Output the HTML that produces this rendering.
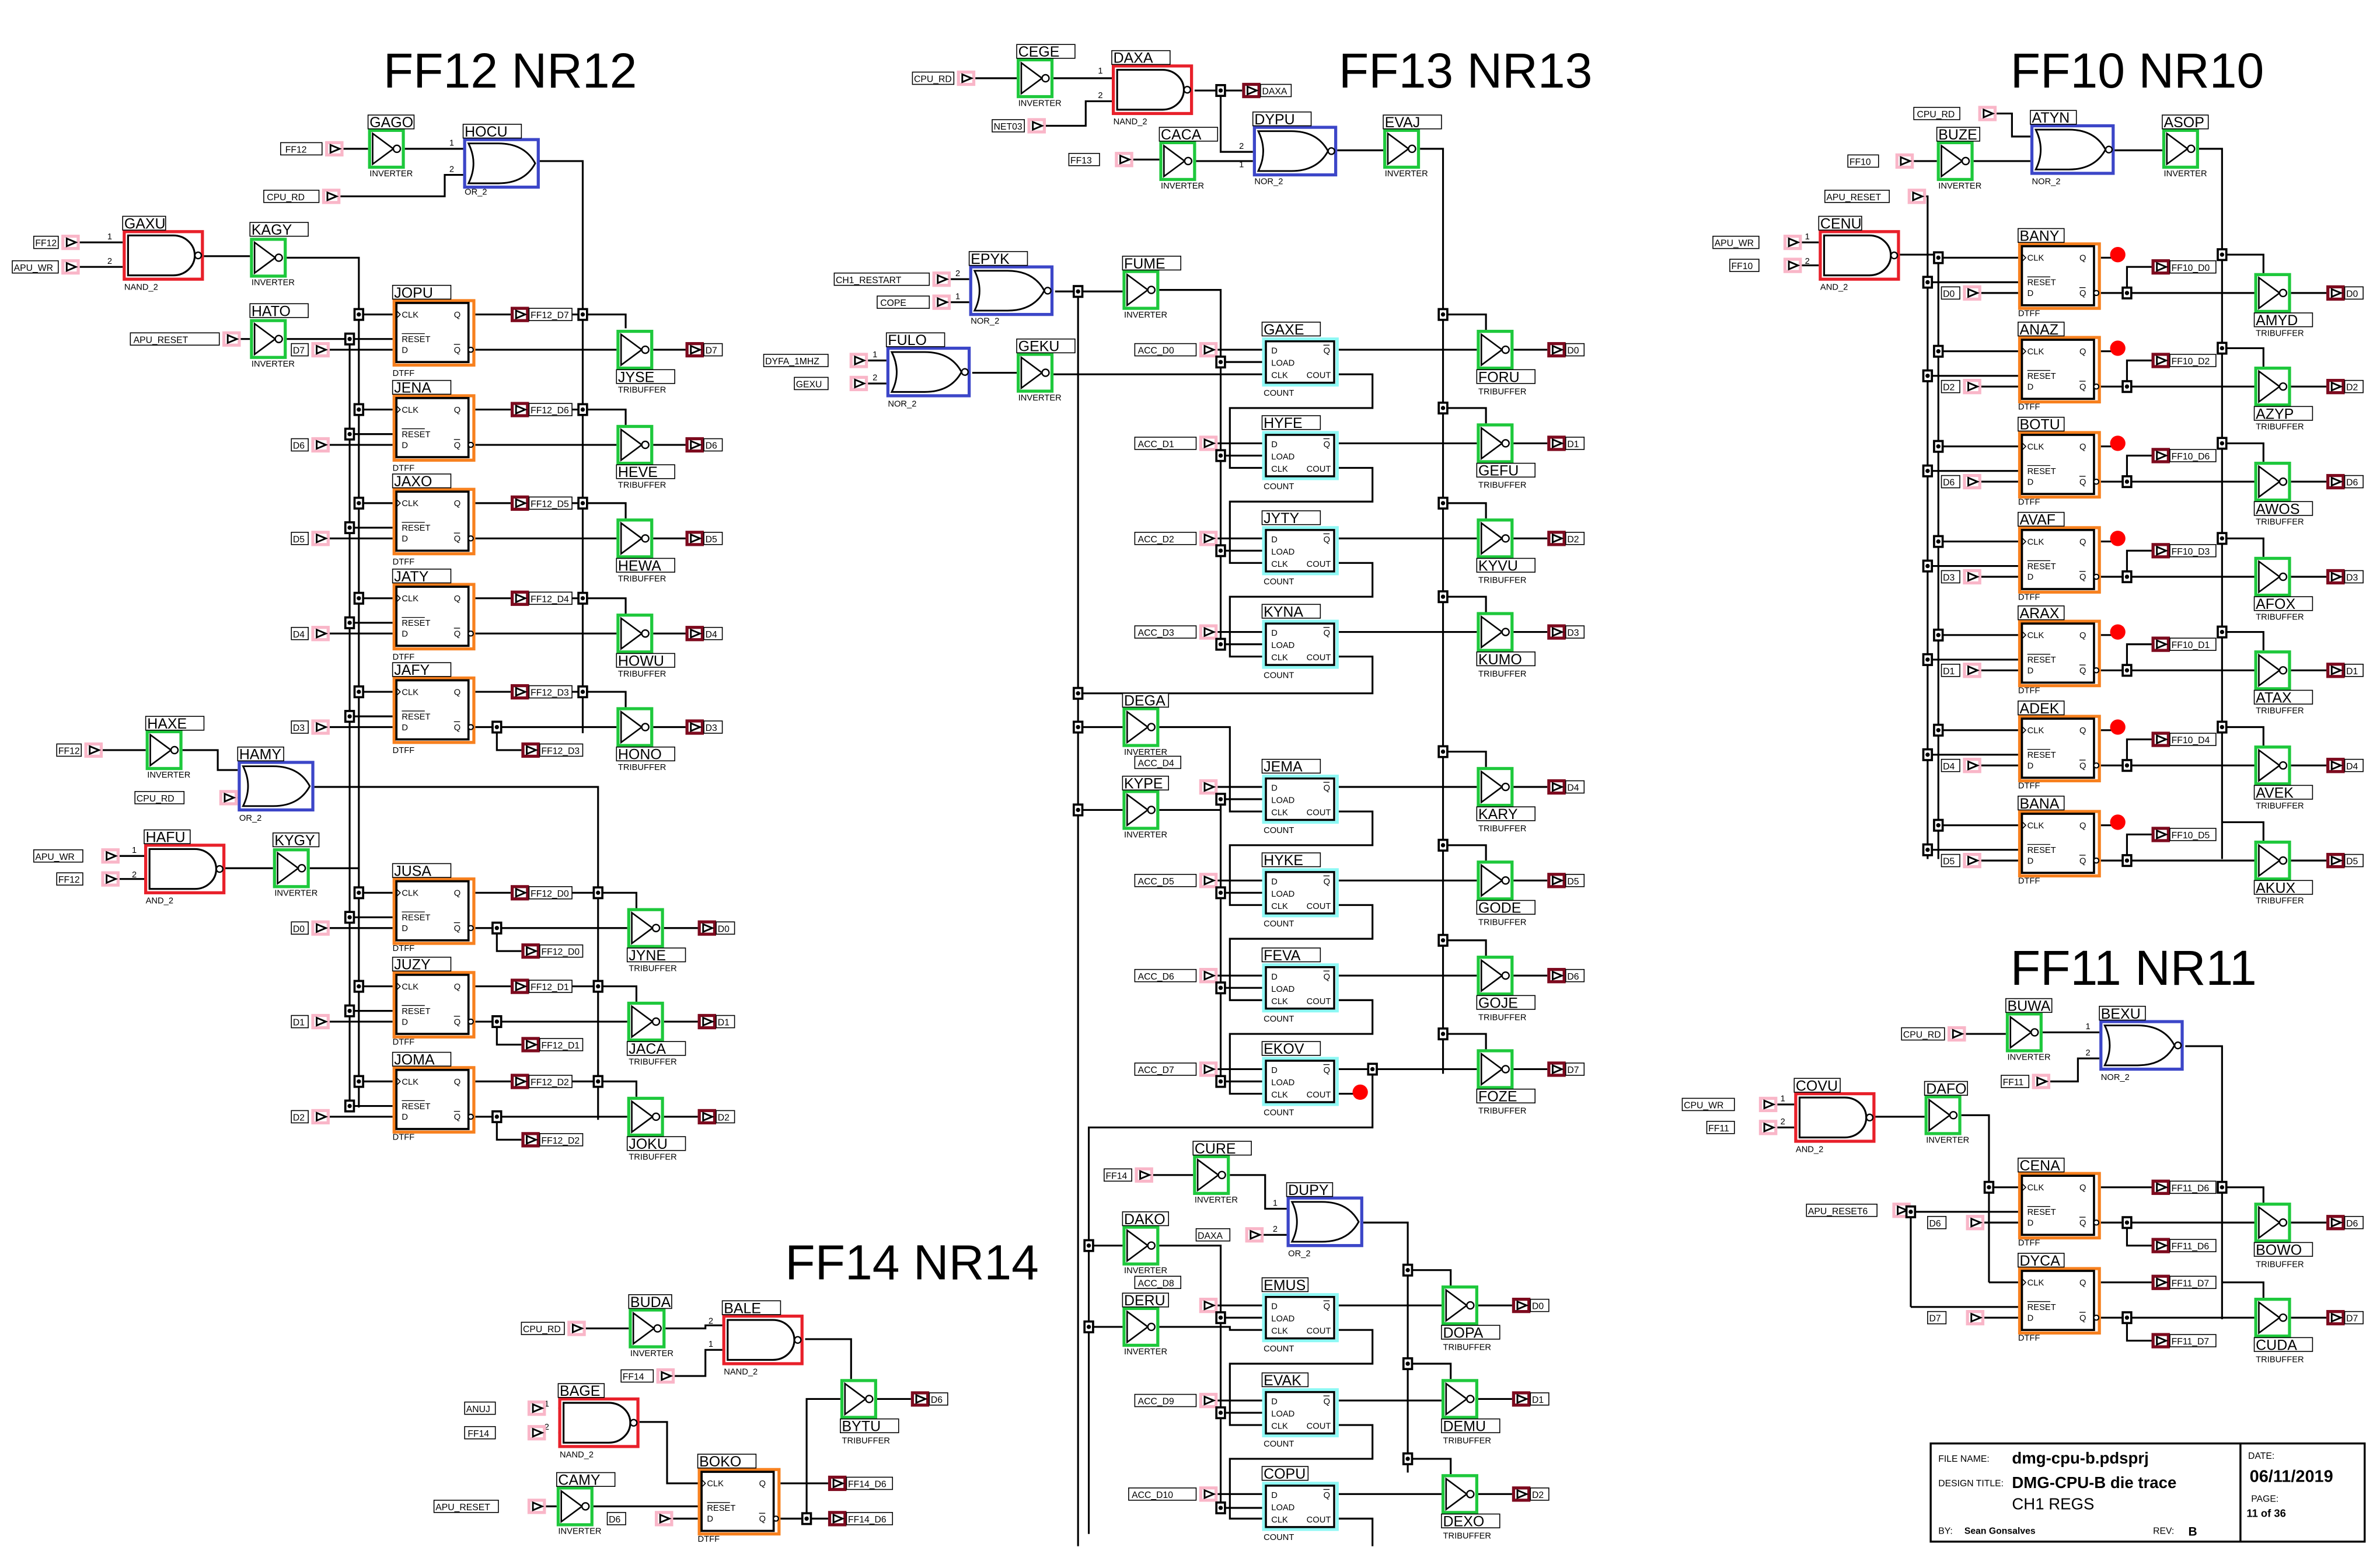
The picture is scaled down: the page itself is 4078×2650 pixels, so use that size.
<!DOCTYPE html>
<html><head><meta charset="utf-8">
<style>
html,body{margin:0;padding:0;background:#fff;}
svg{display:block}
text{font-family:"Liberation Sans",sans-serif;fill:#000}
.n{font-size:9.5px}
.t{font-size:5.6px}
.p{font-size:6px}
.g{font-size:6px}
.T{font-size:32px}
.b{fill:#fff;stroke:#000;stroke-width:.6}
.w{fill:none;stroke:#000;stroke-width:1.2}
</style></head><body>
<svg width="4078" height="2650" viewBox="0 0 1552 1008.5" preserveAspectRatio="none" xmlns="http://www.w3.org/2000/svg" xmlns:xlink="http://www.w3.org/1999/xlink">
<defs>
<g id="inv"><rect x="1" y="1" width="22" height="24" fill="#fff" stroke="#1ec83c" stroke-width="2"/><path d="M3,3L3,23L16.5,13Z" fill="none" stroke="#000" stroke-width="1"/><circle cx="18.8" cy="13" r="2.3" fill="#fff" stroke="#000" stroke-width=".9"/></g>
<g id="nand"><rect x="1" y="1" width="51" height="31" fill="#fff" stroke="#e8202a" stroke-width="2"/><path d="M3.5,3.5H33A14,13 0 0 1 33,29.5H3.5Z" fill="none" stroke="#000" stroke-width="1.2"/><circle cx="49.2" cy="16.5" r="2.1" fill="#fff" stroke="#000" stroke-width=".9"/></g>
<g id="nor"><rect x="1" y="1" width="53" height="31" fill="#fff" stroke="#3c46c8" stroke-width="2"/><path d="M3.5,3.5Q10,16.5 3.5,29.5H25Q42,29.5 49,16.5Q42,3.5 25,3.5Z" fill="none" stroke="#000" stroke-width="1.1"/><circle cx="51.2" cy="16.5" r="2.1" fill="#fff" stroke="#000" stroke-width=".9"/></g>
<g id="or"><rect x="1" y="1" width="48" height="31" fill="#fff" stroke="#3c46c8" stroke-width="2"/><path d="M3.5,3.5Q10,16.5 3.5,29.5H23Q40,29.5 47,16.5Q40,3.5 23,3.5Z" fill="none" stroke="#000" stroke-width="1.1"/></g>
<g id="dff"><rect x="1" y="1" width="52" height="42" fill="#fff" stroke="#f7801e" stroke-width="2"/><rect x="2.5" y="2.5" width="47" height="38.5" fill="#fff" stroke="#000" stroke-width="1.4"/><path d="M3,8L5,10L3,12" fill="none" stroke="#000" stroke-width=".6"/><text class="t" x="6" y="12">CLK</text><text class="t" x="6" y="28">RESET</text><path d="M6,22.5H21" stroke="#000" stroke-width=".5"/><text class="t" x="6" y="35">D</text><text class="t" x="40" y="12">Q</text><text class="t" x="40" y="35">Q</text><path d="M40,29.5H44" stroke="#000" stroke-width=".5"/><circle cx="51" cy="33" r="1.6" fill="#fff" stroke="#000" stroke-width=".8"/></g>
<g id="cnt"><rect x="1" y="1" width="48" height="30" fill="#fff" stroke="#8ef8f4" stroke-width="2"/><rect x="2.5" y="2.5" width="44.5" height="27" fill="#fff" stroke="#000" stroke-width="1.3"/><text class="t" x="6" y="10.5">D</text><text class="t" x="6" y="18.5">LOAD</text><text class="t" x="6" y="26.5">CLK</text><text class="t" x="29" y="26.5">COUT</text><text class="t" x="40" y="10.5">Q</text><path d="M40,5H44" stroke="#000" stroke-width=".5"/></g>
<g id="pi"><rect x="1" y="1" width="10" height="8" fill="#fff" stroke="#f9b6c8" stroke-width="2"/><path d="M3.5,2.5L9.5,5L3.5,7.5Z" fill="none" stroke="#000" stroke-width="1.1"/></g>
<g id="po"><rect x="1" y="1" width="10" height="8" fill="#fff" stroke="#7d0a1e" stroke-width="2"/><path d="M3.5,2.5L9.5,5L3.5,7.5Z" fill="none" stroke="#000" stroke-width="1.1"/></g>
<g id="j"><rect x="-2.8" y="-3.5" width="5.6" height="7" fill="#fff" stroke="#000" stroke-width="1.4"/><circle r="1.4" fill="#000"/></g>
</defs>

<!-- ================= WIRES ================= -->
<path class="w" d="
M52,158H80 M52,174H80 M133,167H163 M187,168H234V722 M157,221H163 M187,221H228V722
M224,97H240 M264,97H302 M222,128H290V114H302 M351,105H380V478
M234,205H256 M228,221H256 M215,228H256 M310,205H333 M345,205H408V214 M310,228H402 M426,228H447
M234,267H256 M228,283H256 M215,290H256 M310,267H333 M345,267H408V277 M310,290H402 M426,290H447
M234,328H256 M228,344H256 M215,351H256 M310,328H333 M345,328H408V338 M310,351H402 M426,351H447
M234,390H256 M228,406H256 M215,413H256 M310,390H333 M345,390H408V400 M310,413H402 M426,413H447
M234,451H256 M228,467H256 M215,474H256 M310,451H333 M345,451H408V461 M310,474H402 M426,474H447 M324,474V489H340
M67,489H95 M119,489H142V502H155 M155,520H155 M155,520H150 M205,513H390V730
M78,558H94 M78,573H94 M144,566H178 M202,566H234
M234,582H256 M228,598H256 M215,605H256 M310,582H333 M345,582H415V592 M310,605H409 M324,605V620H340 M433,605H455
M234,643H256 M228,659H256 M215,666H256 M310,643H333 M345,643H415V653 M310,666H409 M324,666V681H340 M433,666H455
M234,705H256 M228,721H256 M215,728H256 M310,705H333 M345,705H415V715 M310,728H409 M324,728V743H340 M433,728H455

M382,866H410 M434,866H460V864H471 M440,897H460V880H471 M525,873H555V899
M368,918H364 M368,934H364 M417,927H435V967H455
M356,982H363 M387,982H455 M439,990H455
M509,967H540 M509,990H540 M526,990V912H548 M572,912H594

M636,51H663 M687,51H725 M682,82H708V66H725 M779,59H810 M796,59V99H817 M739,104H756 M780,105H817 M872,98H902 M926,97H941V700
M632,182H620 M632,197H620 M688,190H732 M703,190V1008 M756,189H796V420
M566,235H578 M566,250H578 M634,243H663 M687,244H823
M794,228H823 M796,236H823 M873,228H963 M941,205H969V215 M987,228H1009
M794,289H823 M796,297H823 M873,289H963 M941,266H969V276 M987,289H1009
M794,351H823 M796,359H823 M873,351H963 M941,328H969V338 M987,351H1009
M794,412H823 M796,420H823 M873,412H963 M941,389H969V399 M987,412H1009
M794,513H823 M796,521H823 M873,513H963 M941,490H969V500 M987,513H1009
M794,574H823 M796,582H823 M873,574H963 M941,551H969V561 M987,574H1009
M794,636H823 M796,644H823 M873,636H963 M941,613H969V623 M987,636H1009
M794,697H823 M796,705H823 M873,697H963 M941,674H969V684 M987,697H1009
M873,244H895V266H802V305H823 M873,305H895V327H802V367H823 M873,367H895V389H802V428H823 M873,428H895V452H703
M873,529H895V551H802V590H823 M873,590H895V612H802V652H823 M873,652H895V674H802V713H823 M873,713H887
M703,474H732 M756,474H802V529H823 M703,528H732 M756,528H796 M796,521V705
M895,697V735H710V1000 M752,766H778 M802,766H825V788H839 M824,805H839 M889,797H918V960
M918,828H946V838 M918,889H946V899 M918,951H946V961
M710,812H732 M756,812H796V983 M710,865H732 M756,865H802V867H823
M794,851H823 M796,859H823 M873,851H940 M964,851H986
M794,913H823 M796,921H823 M873,913H940 M964,912H986
M794,974H823 M796,983H823 M873,974H940 M964,974H986
M873,867H895V889H802V929H823 M873,929H895V951H802V990H823 M873,990H895V1008

M1302,74H1312V89H1324 M1248,105H1263 M1287,105H1324 M1379,98H1410 M1434,97H1449V560
M1256,128H1257V560 M1175,158H1186 M1175,173H1186 M1236,166H1264V560
M1264,168H1316 M1257,184H1316 M1292,191H1316 M1370,168H1378 M1370,191H1470 M1387,191V174H1403 M1449,166H1476V178 M1494,191H1517
M1264,229H1316 M1257,245H1316 M1292,252H1316 M1370,229H1378 M1370,252H1470 M1387,252V235H1403 M1449,227H1476V239 M1494,252H1517
M1264,291H1316 M1257,307H1316 M1292,314H1316 M1370,291H1378 M1370,314H1470 M1387,314V297H1403 M1449,289H1476V301 M1494,314H1517
M1264,353H1316 M1257,369H1316 M1292,376H1316 M1370,353H1378 M1370,376H1470 M1387,376V359H1403 M1449,351H1476V363 M1494,376H1517
M1264,414H1316 M1257,430H1316 M1292,437H1316 M1370,414H1378 M1370,437H1470 M1387,437V420H1403 M1449,412H1476V424 M1494,437H1517
M1264,476H1316 M1257,492H1316 M1292,499H1316 M1370,476H1378 M1370,499H1470 M1387,499V482H1403 M1449,474H1476V486 M1494,499H1517
M1264,538H1316 M1257,554H1316 M1292,561H1316 M1370,538H1378 M1370,561H1470 M1387,561V544H1403 M1449,536H1476V548 M1494,561H1517

M1282,674H1308 M1332,673H1369 M1337,705H1355V690H1369 M1425,682H1449V860
M1159,720H1170 M1159,735H1170 M1220,728H1255 M1279,727H1297V836
M1246,789V852 M1246,790H1316 M1246,852H1316 M1297,774H1316 M1297,836H1316
M1294,797H1316 M1294,859H1316
M1370,774H1403 M1370,797H1470 M1387,797V812H1403 M1449,774H1476V784 M1494,797H1517
M1370,836H1403 M1370,859H1470 M1387,859V874H1403 M1449,836H1476V846 M1494,859H1517
"/>

<!-- ================= TITLES ================= -->
<text class="T" x="250" y="57">FF12 NR12</text>
<text class="T" x="873" y="57">FF13 NR13</text>
<text class="T" x="1311" y="57">FF10 NR10</text>
<text class="T" x="1311" y="642">FF11 NR11</text>
<text class="T" x="512" y="834">FF14 NR14</text>

<!-- ================= FF12 ================= -->
<use href="#inv" x="240" y="84"/><rect class="b" x="240" y="75" width="30" height="9"/><text class="n" x="241" y="83">GAGO</text><text class="t" x="241" y="115">INVERTER</text>
<use href="#or" x="302" y="90"/><rect class="b" x="302" y="81" width="38" height="9"/><text class="n" x="303" y="89">HOCU</text><text class="t" x="303" y="127">OR_2</text><text class="t" x="293" y="95">1</text><text class="t" x="293" y="112">2</text>
<use href="#pi" x="212" y="92"/><rect class="b" x="183" y="93" width="27" height="8"/><text class="p" x="186" y="99.5">FF12</text>
<use href="#pi" x="210" y="123"/><rect class="b" x="172" y="124" width="36" height="8"/><text class="p" x="174" y="130.5">CPU_RD</text>
<use href="#nand" x="80" y="150"/><rect class="b" x="80" y="141" width="28" height="9"/><text class="n" x="81" y="149">GAXU</text><text class="t" x="81" y="189">NAND_2</text><text class="t" x="70" y="156">1</text><text class="t" x="70" y="172">2</text>
<use href="#pi" x="40" y="153"/><rect class="b" x="22" y="154" width="16" height="8"/><text class="p" x="23" y="160.5">FF12</text>
<use href="#pi" x="40" y="169"/><rect class="b" x="8" y="170" width="30" height="8"/><text class="p" x="9" y="176.5">APU_WR</text>
<use href="#inv" x="163" y="155"/><rect class="b" x="163" y="145" width="38" height="9"/><text class="n" x="164" y="153">KAGY</text><text class="t" x="164" y="186">INVERTER</text>
<use href="#inv" x="163" y="208"/><rect class="b" x="163" y="198" width="38" height="9"/><text class="n" x="164" y="206">HATO</text><text class="t" x="164" y="239">INVERTER</text>
<use href="#pi" x="145" y="216"/><rect class="b" x="85" y="217" width="58" height="8"/><text class="p" x="87" y="223.5">APU_RESET</text>

<use href="#dff" x="256" y="195"/><rect class="b" x="256" y="186" width="38" height="9"/><text class="n" x="257" y="194">JOPU</text><text class="t" x="256" y="245">DTFF</text>
<use href="#dff" x="256" y="257"/><rect class="b" x="256" y="248" width="38" height="9"/><text class="n" x="257" y="256">JENA</text><text class="t" x="256" y="307">DTFF</text>
<use href="#dff" x="256" y="318"/><rect class="b" x="256" y="309" width="38" height="9"/><text class="n" x="257" y="317">JAXO</text><text class="t" x="256" y="368">DTFF</text>
<use href="#dff" x="256" y="380"/><rect class="b" x="256" y="371" width="38" height="9"/><text class="n" x="257" y="379">JATY</text><text class="t" x="256" y="430">DTFF</text>
<use href="#dff" x="256" y="441"/><rect class="b" x="256" y="432" width="38" height="9"/><text class="n" x="257" y="440">JAFY</text><text class="t" x="256" y="491">DTFF</text>

<use href="#pi" x="203" y="223"/><rect class="b" x="190" y="224" width="11" height="8"/><text class="p" x="191" y="230.5">D7</text>
<use href="#pi" x="203" y="285"/><rect class="b" x="190" y="286" width="11" height="8"/><text class="p" x="191" y="292.5">D6</text>
<use href="#pi" x="203" y="346"/><rect class="b" x="190" y="347" width="11" height="8"/><text class="p" x="191" y="353.5">D5</text>
<use href="#pi" x="203" y="408"/><rect class="b" x="190" y="409" width="11" height="8"/><text class="p" x="191" y="415.5">D4</text>
<use href="#pi" x="203" y="469"/><rect class="b" x="190" y="470" width="11" height="8"/><text class="p" x="191" y="476.5">D3</text>

<use href="#po" x="333" y="200"/><rect class="b" x="345" y="201" width="28" height="8"/><text class="p" x="346" y="207.5">FF12_D7</text>
<use href="#po" x="333" y="262"/><rect class="b" x="345" y="263" width="28" height="8"/><text class="p" x="346" y="269.5">FF12_D6</text>
<use href="#po" x="333" y="323"/><rect class="b" x="345" y="324" width="28" height="8"/><text class="p" x="346" y="330.5">FF12_D5</text>
<use href="#po" x="333" y="385"/><rect class="b" x="345" y="386" width="28" height="8"/><text class="p" x="346" y="392.5">FF12_D4</text>
<use href="#po" x="333" y="446"/><rect class="b" x="345" y="447" width="28" height="8"/><text class="p" x="346" y="453.5">FF12_D3</text>
<use href="#po" x="340" y="484"/><rect class="b" x="352" y="485" width="28" height="8"/><text class="p" x="353" y="491.5">FF12_D3</text>

<use href="#inv" x="402" y="215"/><rect class="b" x="402" y="241" width="38" height="9"/><text class="n" x="403" y="249">JYSE</text><text class="t" x="403" y="256">TRIBUFFER</text>
<use href="#inv" x="402" y="277"/><rect class="b" x="402" y="303" width="38" height="9"/><text class="n" x="403" y="311">HEVE</text><text class="t" x="403" y="318">TRIBUFFER</text>
<use href="#inv" x="402" y="338"/><rect class="b" x="402" y="364" width="38" height="9"/><text class="n" x="403" y="372">HEWA</text><text class="t" x="403" y="379">TRIBUFFER</text>
<use href="#inv" x="402" y="400"/><rect class="b" x="402" y="426" width="38" height="9"/><text class="n" x="403" y="434">HOWU</text><text class="t" x="403" y="441">TRIBUFFER</text>
<use href="#inv" x="402" y="461"/><rect class="b" x="402" y="487" width="38" height="9"/><text class="n" x="403" y="495">HONO</text><text class="t" x="403" y="502">TRIBUFFER</text>

<use href="#po" x="447" y="223"/><rect class="b" x="459" y="224" width="12" height="8"/><text class="p" x="460" y="230.5">D7</text>
<use href="#po" x="447" y="285"/><rect class="b" x="459" y="286" width="12" height="8"/><text class="p" x="460" y="292.5">D6</text>
<use href="#po" x="447" y="346"/><rect class="b" x="459" y="347" width="12" height="8"/><text class="p" x="460" y="353.5">D5</text>
<use href="#po" x="447" y="408"/><rect class="b" x="459" y="409" width="12" height="8"/><text class="p" x="460" y="415.5">D4</text>
<use href="#po" x="447" y="469"/><rect class="b" x="459" y="470" width="12" height="8"/><text class="p" x="460" y="476.5">D3</text>

<use href="#j" x="234" y="205"/><use href="#j" x="228" y="221"/><use href="#j" x="380" y="205"/>
<use href="#j" x="234" y="267"/><use href="#j" x="228" y="283"/><use href="#j" x="380" y="267"/>
<use href="#j" x="234" y="328"/><use href="#j" x="228" y="344"/><use href="#j" x="380" y="328"/>
<use href="#j" x="234" y="390"/><use href="#j" x="228" y="406"/><use href="#j" x="380" y="390"/>
<use href="#j" x="234" y="451"/><use href="#j" x="228" y="467"/><use href="#j" x="380" y="451"/><use href="#j" x="324" y="474"/>

<!-- lower FF12 -->
<use href="#inv" x="95" y="476"/><rect class="b" x="95" y="467" width="38" height="9"/><text class="n" x="96" y="475">HAXE</text><text class="t" x="96" y="507">INVERTER</text>
<use href="#pi" x="55" y="484"/><rect class="b" x="37" y="485" width="16" height="8"/><text class="p" x="38" y="491.5">FF12</text>
<use href="#or" x="155" y="496"/><rect class="b" x="155" y="487" width="30" height="9"/><text class="n" x="156" y="495">HAMY</text><text class="t" x="156" y="535">OR_2</text><text class="t" x="147" y="519">2</text>
<use href="#pi" x="143" y="515"/><rect class="b" x="88" y="516" width="32" height="8"/><text class="p" x="89" y="522.5">CPU_RD</text>
<use href="#nand" x="94" y="550"/><rect class="b" x="94" y="541" width="30" height="9"/><text class="n" x="95" y="549">HAFU</text><text class="t" x="95" y="589">AND_2</text><text class="t" x="86" y="556">1</text><text class="t" x="86" y="572">2</text>
<use href="#pi" x="66" y="553"/><rect class="b" x="22" y="554" width="32" height="8"/><text class="p" x="23" y="560.5">APU_WR</text>
<use href="#pi" x="66" y="568"/><rect class="b" x="37" y="569" width="17" height="8"/><text class="p" x="38" y="575.5">FF12</text>
<use href="#inv" x="178" y="553"/><rect class="b" x="178" y="543" width="30" height="9"/><text class="n" x="179" y="551">KYGY</text><text class="t" x="179" y="584">INVERTER</text>

<use href="#dff" x="256" y="572"/><rect class="b" x="256" y="563" width="38" height="9"/><text class="n" x="257" y="571">JUSA</text><text class="t" x="256" y="620">DTFF</text>
<use href="#dff" x="256" y="633"/><rect class="b" x="256" y="624" width="38" height="9"/><text class="n" x="257" y="632">JUZY</text><text class="t" x="256" y="681">DTFF</text>
<use href="#dff" x="256" y="695"/><rect class="b" x="256" y="686" width="38" height="9"/><text class="n" x="257" y="694">JOMA</text><text class="t" x="256" y="743">DTFF</text>
<use href="#pi" x="203" y="600"/><rect class="b" x="190" y="601" width="11" height="8"/><text class="p" x="191" y="607.5">D0</text>
<use href="#pi" x="203" y="661"/><rect class="b" x="190" y="662" width="11" height="8"/><text class="p" x="191" y="668.5">D1</text>
<use href="#pi" x="203" y="723"/><rect class="b" x="190" y="724" width="11" height="8"/><text class="p" x="191" y="730.5">D2</text>
<use href="#po" x="333" y="577"/><rect class="b" x="345" y="578" width="28" height="8"/><text class="p" x="346" y="584.5">FF12_D0</text>
<use href="#po" x="333" y="638"/><rect class="b" x="345" y="639" width="28" height="8"/><text class="p" x="346" y="645.5">FF12_D1</text>
<use href="#po" x="333" y="700"/><rect class="b" x="345" y="701" width="28" height="8"/><text class="p" x="346" y="707.5">FF12_D2</text>
<use href="#po" x="340" y="615"/><rect class="b" x="352" y="616" width="28" height="8"/><text class="p" x="353" y="622.5">FF12_D0</text>
<use href="#po" x="340" y="676"/><rect class="b" x="352" y="677" width="28" height="8"/><text class="p" x="353" y="683.5">FF12_D1</text>
<use href="#po" x="340" y="738"/><rect class="b" x="352" y="739" width="28" height="8"/><text class="p" x="353" y="745.5">FF12_D2</text>
<use href="#inv" x="409" y="592"/><rect class="b" x="409" y="618" width="38" height="9"/><text class="n" x="410" y="626">JYNE</text><text class="t" x="410" y="633">TRIBUFFER</text>
<use href="#inv" x="409" y="653"/><rect class="b" x="409" y="679" width="38" height="9"/><text class="n" x="410" y="687">JACA</text><text class="t" x="410" y="694">TRIBUFFER</text>
<use href="#inv" x="409" y="715"/><rect class="b" x="409" y="741" width="38" height="9"/><text class="n" x="410" y="749">JOKU</text><text class="t" x="410" y="756">TRIBUFFER</text>
<use href="#po" x="455" y="600"/><rect class="b" x="467" y="601" width="12" height="8"/><text class="p" x="468" y="607.5">D0</text>
<use href="#po" x="455" y="661"/><rect class="b" x="467" y="662" width="12" height="8"/><text class="p" x="468" y="668.5">D1</text>
<use href="#po" x="455" y="723"/><rect class="b" x="467" y="724" width="12" height="8"/><text class="p" x="468" y="730.5">D2</text>
<use href="#j" x="234" y="582"/><use href="#j" x="228" y="598"/><use href="#j" x="390" y="582"/><use href="#j" x="324" y="605"/>
<use href="#j" x="234" y="643"/><use href="#j" x="228" y="659"/><use href="#j" x="390" y="643"/><use href="#j" x="324" y="666"/>
<use href="#j" x="234" y="705"/><use href="#j" x="228" y="721"/><use href="#j" x="390" y="705"/><use href="#j" x="324" y="728"/>

<!-- ================= FF14 ================= -->
<use href="#inv" x="410" y="853"/><rect class="b" x="410" y="844" width="28" height="9"/><text class="n" x="411" y="852">BUDA</text><text class="t" x="411" y="884">INVERTER</text>
<use href="#pi" x="370" y="861"/><rect class="b" x="340" y="862" width="28" height="8"/><text class="p" x="341" y="868.5">CPU_RD</text>
<use href="#nand" x="471" y="857"/><rect class="b" x="471" y="848" width="38" height="9"/><text class="n" x="472" y="856">BALE</text><text class="t" x="472" y="896">NAND_2</text><text class="t" x="462" y="863">2</text><text class="t" x="462" y="878">1</text>
<use href="#pi" x="428" y="892"/><rect class="b" x="405" y="893" width="21" height="8"/><text class="p" x="406" y="899.5">FF14</text>
<use href="#nand" x="364" y="911"/><rect class="b" x="364" y="902" width="30" height="9"/><text class="n" x="365" y="910">BAGE</text><text class="t" x="365" y="950">NAND_2</text><text class="t" x="355" y="917">1</text><text class="t" x="355" y="932">2</text>
<use href="#pi" x="344" y="913"/><rect class="b" x="303" y="914" width="20" height="8"/><text class="p" x="304" y="920.5">ANUJ</text>
<use href="#pi" x="344" y="929"/><rect class="b" x="303" y="930" width="20" height="8"/><text class="p" x="305" y="936.5">FF14</text>
<use href="#inv" x="363" y="969"/><rect class="b" x="363" y="960" width="38" height="9"/><text class="n" x="364" y="968">CAMY</text><text class="t" x="364" y="1000">INVERTER</text>
<use href="#pi" x="344" y="977"/><rect class="b" x="283" y="978" width="42" height="8"/><text class="p" x="284" y="984.5">APU_RESET</text>
<use href="#pi" x="427" y="985"/><rect class="b" x="396" y="986" width="12" height="8"/><text class="p" x="397" y="992.5">D6</text>
<use href="#dff" x="455" y="957"/><rect class="b" x="455" y="948" width="38" height="9"/><text class="n" x="456" y="956">BOKO</text><text class="t" x="455" y="1005">DTFF</text>
<use href="#po" x="540" y="962"/><rect class="b" x="552" y="963" width="30" height="8"/><text class="p" x="553" y="969.5">FF14_D6</text>
<use href="#po" x="540" y="985"/><rect class="b" x="552" y="986" width="30" height="8"/><text class="p" x="553" y="992.5">FF14_D6</text>
<use href="#inv" x="548" y="899"/><rect class="b" x="548" y="925" width="38" height="9"/><text class="n" x="549" y="933">BYTU</text><text class="t" x="549" y="941">TRIBUFFER</text>
<use href="#po" x="594" y="907"/><rect class="b" x="606" y="908" width="12" height="8"/><text class="p" x="607" y="914.5">D6</text>
<use href="#j" x="526" y="990"/>

<!-- ================= FF13 ================= -->
<use href="#inv" x="663" y="38"/><rect class="b" x="663" y="29" width="38" height="9"/><text class="n" x="664" y="37">CEGE</text><text class="t" x="664" y="69">INVERTER</text>
<use href="#pi" x="624" y="46"/><rect class="b" x="595" y="47" width="27" height="8"/><text class="p" x="596" y="53.5">CPU_RD</text>
<use href="#nand" x="725" y="42"/><rect class="b" x="725" y="33" width="38" height="9"/><text class="n" x="726" y="41">DAXA</text><text class="t" x="726" y="81">NAND_2</text><text class="t" x="716" y="48">1</text><text class="t" x="716" y="64">2</text>
<use href="#pi" x="670" y="77"/><rect class="b" x="647" y="78" width="21" height="8"/><text class="p" x="648" y="84.5">NET03</text>
<use href="#po" x="810" y="54"/><rect class="b" x="822" y="55" width="20" height="8"/><text class="p" x="823" y="61.5">DAXA</text>
<use href="#j" x="796" y="59"/>
<use href="#inv" x="756" y="92"/><rect class="b" x="756" y="83" width="38" height="9"/><text class="n" x="757" y="91">CACA</text><text class="t" x="757" y="123">INVERTER</text>
<use href="#pi" x="727" y="99"/><rect class="b" x="697" y="100" width="20" height="8"/><text class="p" x="698" y="106.5">FF13</text>
<use href="#nor" x="817" y="82"/><rect class="b" x="817" y="73" width="38" height="9"/><text class="n" x="818" y="81">DYPU</text><text class="t" x="818" y="120">NOR_2</text><text class="t" x="808" y="97">2</text><text class="t" x="808" y="109">1</text>
<use href="#inv" x="902" y="84"/><rect class="b" x="902" y="75" width="38" height="9"/><text class="n" x="903" y="83">EVAJ</text><text class="t" x="903" y="115">INVERTER</text>

<use href="#nor" x="632" y="173"/><rect class="b" x="632" y="164" width="38" height="9"/><text class="n" x="633" y="172">EPYK</text><text class="t" x="633" y="211">NOR_2</text><text class="t" x="623" y="180">2</text><text class="t" x="623" y="195">1</text>
<use href="#pi" x="608" y="177"/><rect class="b" x="544" y="178" width="62" height="8"/><text class="p" x="545" y="184.5">CH1_RESTART</text>
<use href="#pi" x="608" y="192"/><rect class="b" x="572" y="193" width="34" height="8"/><text class="p" x="574" y="199.5">COPE</text>
<use href="#inv" x="732" y="176"/><rect class="b" x="732" y="167" width="38" height="9"/><text class="n" x="733" y="175">FUME</text><text class="t" x="733" y="207">INVERTER</text>
<use href="#nor" x="578" y="226"/><rect class="b" x="578" y="217" width="38" height="9"/><text class="n" x="579" y="225">FULO</text><text class="t" x="579" y="265">NOR_2</text><text class="t" x="569" y="233">1</text><text class="t" x="569" y="248">2</text>
<use href="#pi" x="554" y="230"/><rect class="b" x="498" y="231" width="42" height="8"/><text class="p" x="499" y="237.5">DYFA_1MHZ</text>
<use href="#pi" x="554" y="245"/><rect class="b" x="518" y="246" width="22" height="8"/><text class="p" x="519" y="252.5">GEXU</text>
<use href="#inv" x="663" y="230"/><rect class="b" x="663" y="221" width="38" height="9"/><text class="n" x="664" y="229">GEKU</text><text class="t" x="664" y="261">INVERTER</text>
<use href="#j" x="703" y="190"/>

<use href="#cnt" x="823" y="220"/><rect class="b" x="823" y="210" width="38" height="9"/><text class="n" x="824" y="218">GAXE</text><text class="t" x="824" y="258">COUNT</text>
<use href="#cnt" x="823" y="281"/><rect class="b" x="823" y="271" width="38" height="9"/><text class="n" x="824" y="279">HYFE</text><text class="t" x="824" y="319">COUNT</text>
<use href="#cnt" x="823" y="343"/><rect class="b" x="823" y="333" width="38" height="9"/><text class="n" x="824" y="341">JYTY</text><text class="t" x="824" y="381">COUNT</text>
<use href="#cnt" x="823" y="404"/><rect class="b" x="823" y="394" width="38" height="9"/><text class="n" x="824" y="402">KYNA</text><text class="t" x="824" y="442">COUNT</text>
<use href="#cnt" x="823" y="505"/><rect class="b" x="823" y="495" width="38" height="9"/><text class="n" x="824" y="503">JEMA</text><text class="t" x="824" y="543">COUNT</text>
<use href="#cnt" x="823" y="566"/><rect class="b" x="823" y="556" width="38" height="9"/><text class="n" x="824" y="564">HYKE</text><text class="t" x="824" y="604">COUNT</text>
<use href="#cnt" x="823" y="628"/><rect class="b" x="823" y="618" width="38" height="9"/><text class="n" x="824" y="626">FEVA</text><text class="t" x="824" y="666">COUNT</text>
<use href="#cnt" x="823" y="689"/><rect class="b" x="823" y="679" width="38" height="9"/><text class="n" x="824" y="687">EKOV</text><text class="t" x="824" y="727">COUNT</text>

<use href="#pi" x="782" y="223"/><rect class="b" x="740" y="224" width="40" height="8"/><text class="p" x="742" y="230.5">ACC_D0</text>
<use href="#pi" x="782" y="284"/><rect class="b" x="740" y="285" width="40" height="8"/><text class="p" x="742" y="291.5">ACC_D1</text>
<use href="#pi" x="782" y="346"/><rect class="b" x="740" y="347" width="40" height="8"/><text class="p" x="742" y="353.5">ACC_D2</text>
<use href="#pi" x="782" y="407"/><rect class="b" x="740" y="408" width="40" height="8"/><text class="p" x="742" y="414.5">ACC_D3</text>
<use href="#pi" x="782" y="508"/><rect class="b" x="740" y="493" width="30" height="8"/><text class="p" x="742" y="499.5">ACC_D4</text>
<use href="#pi" x="782" y="569"/><rect class="b" x="740" y="570" width="40" height="8"/><text class="p" x="742" y="576.5">ACC_D5</text>
<use href="#pi" x="782" y="631"/><rect class="b" x="740" y="632" width="40" height="8"/><text class="p" x="742" y="638.5">ACC_D6</text>
<use href="#pi" x="782" y="692"/><rect class="b" x="740" y="693" width="40" height="8"/><text class="p" x="742" y="699.5">ACC_D7</text>

<use href="#inv" x="963" y="215"/><rect class="b" x="963" y="241" width="38" height="9"/><text class="n" x="964" y="249">FORU</text><text class="t" x="964" y="257">TRIBUFFER</text>
<use href="#inv" x="963" y="276"/><rect class="b" x="963" y="302" width="38" height="9"/><text class="n" x="964" y="310">GEFU</text><text class="t" x="964" y="318">TRIBUFFER</text>
<use href="#inv" x="963" y="338"/><rect class="b" x="963" y="364" width="38" height="9"/><text class="n" x="964" y="372">KYVU</text><text class="t" x="964" y="380">TRIBUFFER</text>
<use href="#inv" x="963" y="399"/><rect class="b" x="963" y="425" width="38" height="9"/><text class="n" x="964" y="433">KUMO</text><text class="t" x="964" y="441">TRIBUFFER</text>
<use href="#inv" x="963" y="500"/><rect class="b" x="963" y="526" width="38" height="9"/><text class="n" x="964" y="534">KARY</text><text class="t" x="964" y="542">TRIBUFFER</text>
<use href="#inv" x="963" y="561"/><rect class="b" x="963" y="587" width="38" height="9"/><text class="n" x="964" y="595">GODE</text><text class="t" x="964" y="603">TRIBUFFER</text>
<use href="#inv" x="963" y="623"/><rect class="b" x="963" y="649" width="38" height="9"/><text class="n" x="964" y="657">GOJE</text><text class="t" x="964" y="665">TRIBUFFER</text>
<use href="#inv" x="963" y="684"/><rect class="b" x="963" y="710" width="38" height="9"/><text class="n" x="964" y="718">FOZE</text><text class="t" x="964" y="726">TRIBUFFER</text>

<use href="#po" x="1009" y="223"/><rect class="b" x="1021" y="224" width="12" height="8"/><text class="p" x="1022" y="230.5">D0</text>
<use href="#po" x="1009" y="284"/><rect class="b" x="1021" y="285" width="12" height="8"/><text class="p" x="1022" y="291.5">D1</text>
<use href="#po" x="1009" y="346"/><rect class="b" x="1021" y="347" width="12" height="8"/><text class="p" x="1022" y="353.5">D2</text>
<use href="#po" x="1009" y="407"/><rect class="b" x="1021" y="408" width="12" height="8"/><text class="p" x="1022" y="414.5">D3</text>
<use href="#po" x="1009" y="508"/><rect class="b" x="1021" y="509" width="12" height="8"/><text class="p" x="1022" y="515.5">D4</text>
<use href="#po" x="1009" y="569"/><rect class="b" x="1021" y="570" width="12" height="8"/><text class="p" x="1022" y="576.5">D5</text>
<use href="#po" x="1009" y="631"/><rect class="b" x="1021" y="632" width="12" height="8"/><text class="p" x="1022" y="638.5">D6</text>
<use href="#po" x="1009" y="692"/><rect class="b" x="1021" y="693" width="12" height="8"/><text class="p" x="1022" y="699.5">D7</text>

<use href="#j" x="796" y="236"/><use href="#j" x="796" y="297"/><use href="#j" x="796" y="359"/><use href="#j" x="796" y="420"/>
<use href="#j" x="796" y="521"/><use href="#j" x="796" y="582"/><use href="#j" x="796" y="644"/><use href="#j" x="796" y="705"/>
<use href="#j" x="941" y="205"/><use href="#j" x="941" y="266"/><use href="#j" x="941" y="328"/><use href="#j" x="941" y="389"/>
<use href="#j" x="941" y="490"/><use href="#j" x="941" y="551"/><use href="#j" x="941" y="613"/><use href="#j" x="941" y="674"/>
<use href="#j" x="703" y="452"/><use href="#j" x="703" y="474"/><use href="#j" x="703" y="528"/><use href="#j" x="895" y="697"/>
<circle cx="887" cy="712" r="5" fill="#f00"/>

<use href="#inv" x="732" y="461"/><rect class="b" x="732" y="452" width="30" height="9"/><text class="n" x="733" y="460">DEGA</text><text class="t" x="733" y="492">INVERTER</text>
<use href="#inv" x="732" y="515"/><rect class="b" x="732" y="506" width="30" height="9"/><text class="n" x="733" y="514">KYPE</text><text class="t" x="733" y="546">INVERTER</text>

<!-- bottom FF13 -->
<use href="#inv" x="778" y="753"/><rect class="b" x="778" y="744" width="38" height="9"/><text class="n" x="779" y="752">CURE</text><text class="t" x="779" y="784">INVERTER</text>
<use href="#pi" x="740" y="761"/><rect class="b" x="720" y="762" width="18" height="8"/><text class="p" x="721" y="768.5">FF14</text>
<use href="#or" x="839" y="780"/><rect class="b" x="839" y="771" width="30" height="9"/><text class="n" x="840" y="779">DUPY</text><text class="t" x="840" y="819">OR_2</text><text class="t" x="830" y="786">1</text><text class="t" x="830" y="803">2</text>
<use href="#pi" x="812" y="800"/><rect class="b" x="780" y="801" width="22" height="8"/><text class="p" x="781" y="807.5">DAXA</text>
<use href="#inv" x="732" y="799"/><rect class="b" x="732" y="790" width="30" height="9"/><text class="n" x="733" y="798">DAKO</text><text class="t" x="733" y="830">INVERTER</text>
<use href="#inv" x="732" y="852"/><rect class="b" x="732" y="843" width="30" height="9"/><text class="n" x="733" y="851">DERU</text><text class="t" x="733" y="883">INVERTER</text>
<use href="#j" x="710" y="812"/><use href="#j" x="710" y="865"/>
<use href="#cnt" x="823" y="843"/><rect class="b" x="823" y="833" width="30" height="9"/><text class="n" x="824" y="841">EMUS</text><text class="t" x="824" y="881">COUNT</text>
<use href="#cnt" x="823" y="905"/><rect class="b" x="823" y="895" width="30" height="9"/><text class="n" x="824" y="903">EVAK</text><text class="t" x="824" y="943">COUNT</text>
<use href="#cnt" x="823" y="966"/><rect class="b" x="823" y="956" width="30" height="9"/><text class="n" x="824" y="964">COPU</text><text class="t" x="824" y="1004">COUNT</text>
<use href="#pi" x="782" y="846"/><rect class="b" x="740" y="832" width="30" height="8"/><text class="p" x="742" y="838.5">ACC_D8</text>
<use href="#pi" x="782" y="908"/><rect class="b" x="740" y="909" width="40" height="8"/><text class="p" x="742" y="915.5">ACC_D9</text>
<use href="#pi" x="782" y="969"/><rect class="b" x="736" y="970" width="44" height="8"/><text class="p" x="738" y="976.5">ACC_D10</text>
<use href="#j" x="796" y="859"/><use href="#j" x="796" y="921"/><use href="#j" x="796" y="983"/>
<use href="#j" x="918" y="828"/><use href="#j" x="918" y="889"/><use href="#j" x="918" y="951"/>
<use href="#inv" x="940" y="838"/><rect class="b" x="940" y="864" width="38" height="9"/><text class="n" x="941" y="872">DOPA</text><text class="t" x="941" y="880">TRIBUFFER</text>
<use href="#inv" x="940" y="899"/><rect class="b" x="940" y="925" width="38" height="9"/><text class="n" x="941" y="933">DEMU</text><text class="t" x="941" y="941">TRIBUFFER</text>
<use href="#inv" x="940" y="961"/><rect class="b" x="940" y="987" width="38" height="9"/><text class="n" x="941" y="995">DEXO</text><text class="t" x="941" y="1003">TRIBUFFER</text>
<use href="#po" x="986" y="846"/><rect class="b" x="998" y="847" width="12" height="8"/><text class="p" x="999" y="853.5">D0</text>
<use href="#po" x="986" y="907"/><rect class="b" x="998" y="908" width="12" height="8"/><text class="p" x="999" y="914.5">D1</text>
<use href="#po" x="986" y="969"/><rect class="b" x="998" y="970" width="12" height="8"/><text class="p" x="999" y="976.5">D2</text>

<!-- ================= FF10 ================= -->
<use href="#pi" x="1290" y="69"/><rect class="b" x="1248" y="70" width="30" height="8"/><text class="p" x="1250" y="76.5">CPU_RD</text>
<use href="#inv" x="1263" y="92"/><rect class="b" x="1263" y="83" width="28" height="9"/><text class="n" x="1264" y="91">BUZE</text><text class="t" x="1264" y="123">INVERTER</text>
<use href="#pi" x="1236" y="100"/><rect class="b" x="1205" y="101" width="20" height="8"/><text class="p" x="1206" y="107.5">FF10</text>
<use href="#nor" x="1324" y="81"/><rect class="b" x="1324" y="72" width="30" height="9"/><text class="n" x="1325" y="80">ATYN</text><text class="t" x="1325" y="120">NOR_2</text>
<use href="#inv" x="1410" y="84"/><rect class="b" x="1410" y="75" width="30" height="9"/><text class="n" x="1411" y="83">ASOP</text><text class="t" x="1411" y="115">INVERTER</text>
<use href="#pi" x="1244" y="123"/><rect class="b" x="1190" y="124" width="42" height="8"/><text class="p" x="1191" y="130.5">APU_RESET</text>
<use href="#nand" x="1186" y="150"/><rect class="b" x="1186" y="141" width="28" height="9"/><text class="n" x="1187" y="149">CENU</text><text class="t" x="1187" y="189">AND_2</text><text class="t" x="1177" y="156">1</text><text class="t" x="1177" y="172">2</text>
<use href="#pi" x="1163" y="153"/><rect class="b" x="1117" y="154" width="30" height="8"/><text class="p" x="1118" y="160.5">APU_WR</text>
<use href="#pi" x="1163" y="168"/><rect class="b" x="1128" y="169" width="19" height="8"/><text class="p" x="1129" y="175.5">FF10</text>

<use href="#dff" x="1316" y="158"/><rect class="b" x="1316" y="149" width="30" height="9"/><text class="n" x="1317" y="157">BANY</text><text class="t" x="1316" y="206">DTFF</text>
<use href="#dff" x="1316" y="219"/><rect class="b" x="1316" y="210" width="30" height="9"/><text class="n" x="1317" y="218">ANAZ</text><text class="t" x="1316" y="267">DTFF</text>
<use href="#dff" x="1316" y="281"/><rect class="b" x="1316" y="272" width="30" height="9"/><text class="n" x="1317" y="280">BOTU</text><text class="t" x="1316" y="329">DTFF</text>
<use href="#dff" x="1316" y="343"/><rect class="b" x="1316" y="334" width="30" height="9"/><text class="n" x="1317" y="342">AVAF</text><text class="t" x="1316" y="391">DTFF</text>
<use href="#dff" x="1316" y="404"/><rect class="b" x="1316" y="395" width="30" height="9"/><text class="n" x="1317" y="403">ARAX</text><text class="t" x="1316" y="452">DTFF</text>
<use href="#dff" x="1316" y="466"/><rect class="b" x="1316" y="457" width="30" height="9"/><text class="n" x="1317" y="465">ADEK</text><text class="t" x="1316" y="514">DTFF</text>
<use href="#dff" x="1316" y="528"/><rect class="b" x="1316" y="519" width="30" height="9"/><text class="n" x="1317" y="527">BANA</text><text class="t" x="1316" y="576">DTFF</text>

<use href="#pi" x="1280" y="186"/><rect class="b" x="1266" y="187" width="12" height="8"/><text class="p" x="1267" y="193.5">D0</text>
<use href="#pi" x="1280" y="247"/><rect class="b" x="1266" y="248" width="12" height="8"/><text class="p" x="1267" y="254.5">D2</text>
<use href="#pi" x="1280" y="309"/><rect class="b" x="1266" y="310" width="12" height="8"/><text class="p" x="1267" y="316.5">D6</text>
<use href="#pi" x="1280" y="371"/><rect class="b" x="1266" y="372" width="12" height="8"/><text class="p" x="1267" y="378.5">D3</text>
<use href="#pi" x="1280" y="432"/><rect class="b" x="1266" y="433" width="12" height="8"/><text class="p" x="1267" y="439.5">D1</text>
<use href="#pi" x="1280" y="494"/><rect class="b" x="1266" y="495" width="12" height="8"/><text class="p" x="1267" y="501.5">D4</text>
<use href="#pi" x="1280" y="556"/><rect class="b" x="1266" y="557" width="12" height="8"/><text class="p" x="1267" y="563.5">D5</text>

<circle cx="1381" cy="166" r="5" fill="#f00"/><circle cx="1381" cy="227" r="5" fill="#f00"/><circle cx="1381" cy="289" r="5" fill="#f00"/><circle cx="1381" cy="351" r="5" fill="#f00"/><circle cx="1381" cy="412" r="5" fill="#f00"/><circle cx="1381" cy="474" r="5" fill="#f00"/><circle cx="1381" cy="536" r="5" fill="#f00"/>

<use href="#po" x="1403" y="169"/><rect class="b" x="1415" y="170" width="30" height="8"/><text class="p" x="1416" y="176.5">FF10_D0</text>
<use href="#po" x="1403" y="230"/><rect class="b" x="1415" y="231" width="30" height="8"/><text class="p" x="1416" y="237.5">FF10_D2</text>
<use href="#po" x="1403" y="292"/><rect class="b" x="1415" y="293" width="30" height="8"/><text class="p" x="1416" y="299.5">FF10_D6</text>
<use href="#po" x="1403" y="354"/><rect class="b" x="1415" y="355" width="30" height="8"/><text class="p" x="1416" y="361.5">FF10_D3</text>
<use href="#po" x="1403" y="415"/><rect class="b" x="1415" y="416" width="30" height="8"/><text class="p" x="1416" y="422.5">FF10_D1</text>
<use href="#po" x="1403" y="477"/><rect class="b" x="1415" y="478" width="30" height="8"/><text class="p" x="1416" y="484.5">FF10_D4</text>
<use href="#po" x="1403" y="539"/><rect class="b" x="1415" y="540" width="30" height="8"/><text class="p" x="1416" y="546.5">FF10_D5</text>

<use href="#inv" x="1470" y="178"/><rect class="b" x="1470" y="204" width="38" height="9"/><text class="n" x="1471" y="212">AMYD</text><text class="t" x="1471" y="219">TRIBUFFER</text>
<use href="#inv" x="1470" y="239"/><rect class="b" x="1470" y="265" width="38" height="9"/><text class="n" x="1471" y="273">AZYP</text><text class="t" x="1471" y="280">TRIBUFFER</text>
<use href="#inv" x="1470" y="301"/><rect class="b" x="1470" y="327" width="38" height="9"/><text class="n" x="1471" y="335">AWOS</text><text class="t" x="1471" y="342">TRIBUFFER</text>
<use href="#inv" x="1470" y="363"/><rect class="b" x="1470" y="389" width="38" height="9"/><text class="n" x="1471" y="397">AFOX</text><text class="t" x="1471" y="404">TRIBUFFER</text>
<use href="#inv" x="1470" y="424"/><rect class="b" x="1470" y="450" width="38" height="9"/><text class="n" x="1471" y="458">ATAX</text><text class="t" x="1471" y="465">TRIBUFFER</text>
<use href="#inv" x="1470" y="486"/><rect class="b" x="1470" y="512" width="38" height="9"/><text class="n" x="1471" y="520">AVEK</text><text class="t" x="1471" y="527">TRIBUFFER</text>
<use href="#inv" x="1470" y="548"/><rect class="b" x="1470" y="574" width="38" height="9"/><text class="n" x="1471" y="582">AKUX</text><text class="t" x="1471" y="589">TRIBUFFER</text>

<use href="#po" x="1517" y="186"/><rect class="b" x="1529" y="187" width="12" height="8"/><text class="p" x="1530" y="193.5">D0</text>
<use href="#po" x="1517" y="247"/><rect class="b" x="1529" y="248" width="12" height="8"/><text class="p" x="1530" y="254.5">D2</text>
<use href="#po" x="1517" y="309"/><rect class="b" x="1529" y="310" width="12" height="8"/><text class="p" x="1530" y="316.5">D6</text>
<use href="#po" x="1517" y="371"/><rect class="b" x="1529" y="372" width="12" height="8"/><text class="p" x="1530" y="378.5">D3</text>
<use href="#po" x="1517" y="432"/><rect class="b" x="1529" y="433" width="12" height="8"/><text class="p" x="1530" y="439.5">D1</text>
<use href="#po" x="1517" y="494"/><rect class="b" x="1529" y="495" width="12" height="8"/><text class="p" x="1530" y="501.5">D4</text>
<use href="#po" x="1517" y="556"/><rect class="b" x="1529" y="557" width="12" height="8"/><text class="p" x="1530" y="563.5">D5</text>

<use href="#j" x="1264" y="168"/><use href="#j" x="1257" y="184"/><use href="#j" x="1387" y="191"/><use href="#j" x="1449" y="166"/>
<use href="#j" x="1264" y="229"/><use href="#j" x="1257" y="245"/><use href="#j" x="1387" y="252"/><use href="#j" x="1449" y="227"/>
<use href="#j" x="1264" y="291"/><use href="#j" x="1257" y="307"/><use href="#j" x="1387" y="314"/><use href="#j" x="1449" y="289"/>
<use href="#j" x="1264" y="353"/><use href="#j" x="1257" y="369"/><use href="#j" x="1387" y="376"/><use href="#j" x="1449" y="351"/>
<use href="#j" x="1264" y="414"/><use href="#j" x="1257" y="430"/><use href="#j" x="1387" y="437"/><use href="#j" x="1449" y="412"/>
<use href="#j" x="1264" y="476"/><use href="#j" x="1257" y="492"/><use href="#j" x="1387" y="499"/><use href="#j" x="1449" y="474"/>
<use href="#j" x="1264" y="538"/><use href="#j" x="1257" y="554"/><use href="#j" x="1387" y="561"/>

<!-- ================= FF11 ================= -->
<use href="#inv" x="1308" y="660"/><rect class="b" x="1308" y="651" width="30" height="9"/><text class="n" x="1309" y="659">BUWA</text><text class="t" x="1309" y="691">INVERTER</text>
<use href="#pi" x="1270" y="669"/><rect class="b" x="1240" y="670" width="28" height="8"/><text class="p" x="1241" y="676.5">CPU_RD</text>
<use href="#nor" x="1369" y="665"/><rect class="b" x="1369" y="656" width="30" height="9"/><text class="n" x="1370" y="664">BEXU</text><text class="t" x="1370" y="704">NOR_2</text><text class="t" x="1360" y="671">1</text><text class="t" x="1360" y="688">2</text>
<use href="#pi" x="1325" y="700"/><rect class="b" x="1305" y="701" width="18" height="8"/><text class="p" x="1306" y="707.5">FF11</text>
<use href="#nand" x="1170" y="712"/><rect class="b" x="1170" y="703" width="30" height="9"/><text class="n" x="1171" y="711">COVU</text><text class="t" x="1171" y="751">AND_2</text><text class="t" x="1161" y="718">1</text><text class="t" x="1161" y="733">2</text>
<use href="#pi" x="1147" y="715"/><rect class="b" x="1097" y="716" width="34" height="8"/><text class="p" x="1098" y="722.5">CPU_WR</text>
<use href="#pi" x="1147" y="730"/><rect class="b" x="1113" y="731" width="18" height="8"/><text class="p" x="1114" y="737.5">FF11</text>
<use href="#inv" x="1255" y="714"/><rect class="b" x="1255" y="705" width="28" height="9"/><text class="n" x="1256" y="713">DAFO</text><text class="t" x="1256" y="745">INVERTER</text>
<use href="#pi" x="1234" y="784"/><rect class="b" x="1178" y="785" width="46" height="8"/><text class="p" x="1179" y="791.5">APU_RESET6</text>
<use href="#pi" x="1282" y="792"/><rect class="b" x="1257" y="793" width="12" height="8"/><text class="p" x="1258" y="799.5">D6</text>
<use href="#pi" x="1282" y="854"/><rect class="b" x="1257" y="855" width="12" height="8"/><text class="p" x="1258" y="861.5">D7</text>
<use href="#dff" x="1316" y="764"/><rect class="b" x="1316" y="755" width="30" height="9"/><text class="n" x="1317" y="763">CENA</text><text class="t" x="1316" y="812">DTFF</text>
<use href="#dff" x="1316" y="826"/><rect class="b" x="1316" y="817" width="30" height="9"/><text class="n" x="1317" y="825">DYCA</text><text class="t" x="1316" y="874">DTFF</text>
<use href="#po" x="1403" y="769"/><rect class="b" x="1415" y="770" width="30" height="8"/><text class="p" x="1416" y="776.5">FF11_D6</text>
<use href="#po" x="1403" y="807"/><rect class="b" x="1415" y="808" width="30" height="8"/><text class="p" x="1416" y="814.5">FF11_D6</text>
<use href="#po" x="1403" y="831"/><rect class="b" x="1415" y="832" width="30" height="8"/><text class="p" x="1416" y="838.5">FF11_D7</text>
<use href="#po" x="1403" y="869"/><rect class="b" x="1415" y="870" width="30" height="8"/><text class="p" x="1416" y="876.5">FF11_D7</text>
<use href="#inv" x="1470" y="784"/><rect class="b" x="1470" y="810" width="38" height="9"/><text class="n" x="1471" y="818">BOWO</text><text class="t" x="1471" y="826">TRIBUFFER</text>
<use href="#inv" x="1470" y="846"/><rect class="b" x="1470" y="872" width="38" height="9"/><text class="n" x="1471" y="880">CUDA</text><text class="t" x="1471" y="888">TRIBUFFER</text>
<use href="#po" x="1517" y="792"/><rect class="b" x="1529" y="793" width="12" height="8"/><text class="p" x="1530" y="799.5">D6</text>
<use href="#po" x="1517" y="854"/><rect class="b" x="1529" y="855" width="12" height="8"/><text class="p" x="1530" y="861.5">D7</text>
<use href="#j" x="1297" y="774"/><use href="#j" x="1246" y="790"/><use href="#j" x="1387" y="797"/><use href="#j" x="1449" y="774"/>
<use href="#j" x="1387" y="859"/>

<!-- ================= TITLE BLOCK ================= -->
<rect x="1259" y="941" width="283" height="64" fill="none" stroke="#000" stroke-width="1.3"/>
<path d="M1461,941V1005" stroke="#000" stroke-width="1.3"/>
<text class="g" x="1264" y="953">FILE NAME:</text>
<text x="1312" y="954" style="font-size:10.5px;font-weight:bold">dmg-cpu-b.pdsprj</text>
<text class="g" x="1264" y="969">DESIGN TITLE:</text>
<text x="1312" y="970" style="font-size:10.5px;font-weight:bold">DMG-CPU-B die trace</text>
<text x="1312" y="984" style="font-size:10.5px">CH1 REGS</text>
<text class="g" x="1264" y="1000">BY:</text>
<text x="1281" y="1000" style="font-size:6px;font-weight:bold">Sean Gonsalves</text>
<text class="g" x="1404" y="1000">REV:</text>
<text x="1427" y="1001" style="font-size:8px;font-weight:bold">B</text>
<text class="g" x="1466" y="951">DATE:</text>
<text x="1467" y="966" style="font-size:11px;font-weight:bold">06/11/2019</text>
<text class="g" x="1468" y="979">PAGE:</text>
<text x="1465" y="989" style="font-size:7px;font-weight:bold">11   of   36</text>
</svg>
</body></html>
